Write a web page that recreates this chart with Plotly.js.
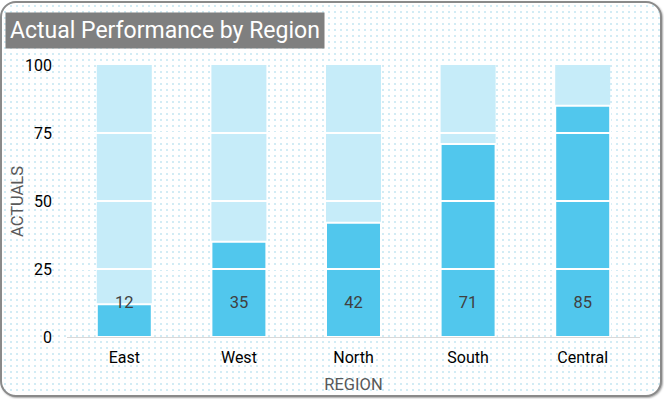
<!DOCTYPE html>
<html>
<head>
<meta charset="utf-8">
<script src="https://cdn.plot.ly/plotly-3.0.1.min.js"></script>
<style>
  html, body { margin:0; padding:0; width:664px; height:399px; overflow:hidden; background:#fff; }
  #frame {
    position:absolute; left:0; top:1px; width:662px; height:396px; box-sizing:border-box;
    border:2px solid #8a8a8a; border-radius:16px;
    background-color:#fff;
    background-image: radial-gradient(circle, #d2ecf5 0.9px, rgba(255,255,255,0) 1.1px);
    background-size: 6px 6px;
    box-shadow: 1px 1px 2px rgba(0,0,0,0.35);
  }
  #chart { position:absolute; left:0; top:0; width:664px; height:399px; }
</style>
</head>
<body>
<div id="frame"></div>
<div id="chart"></div>
<script>
const regions = ["East", "West", "North", "South", "Central"];
const actuals = [12, 35, 42, 71, 85];
const target = [100, 100, 100, 100, 100];
const yTicks = [0, 25, 50, 75, 100];

const FONT = "Roboto, 'Open Sans', sans-serif";

const traces = [
  {
    type: "bar", x: regions, y: target,
    marker: { color: "#C6ECF9" },
    hoverinfo: "skip", showlegend: false
  },
  {
    type: "bar", x: regions, y: actuals,
    marker: { color: "#51C7ED", line: { color: "#ffffff", width: 2 } },
    showlegend: false
  },
  {
    type: "scatter", mode: "text", x: regions,
    y: regions.map(() => 12.2),
    text: actuals.map(String),
    textposition: "middle center",
    textfont: { family: FONT, size: 16.5, color: "#404040" },
    showlegend: false, hoverinfo: "skip"
  }
];

const gridShapes = yTicks.filter(v => v > 0 && v < 100).map(v => ({
  type: "line", xref: "paper", x0: 0, x1: 1, yref: "y", y0: v, y1: v,
  line: { color: "#ffffff", width: 2 }, layer: "above"
}));

const layout = {
  width: 664, height: 399,
  margin: { l: 67, r: 24, t: 65, b: 62 },
  paper_bgcolor: "rgba(0,0,0,0)",
  plot_bgcolor: "rgba(0,0,0,0)",
  barmode: "overlay",
  bargap: 0.52,
  font: { family: FONT, color: "#000" },
  xaxis: {
    showgrid: false, showline: true, linecolor: "#d9d9d9", linewidth: 1,
    ticks: "", tickfont: { family: FONT, size: 16, color: "#000" },
    ticklabelstandoff: 6,
    layer: "above traces",
    title: { text: "REGION", font: { family: FONT, size: 16.5, color: "#595959" }, standoff: 12 },
    fixedrange: true
  },
  yaxis: {
    range: [0, 100], tickvals: yTicks, ticktext: yTicks.map(String),
    showgrid: false, zeroline: false, showline: false, ticks: "",
    tickfont: { family: FONT, size: 16, color: "#000" },
    ticklabelstandoff: 14,
    fixedrange: true
  },
  shapes: gridShapes,
  annotations: [
    {
      xref: "paper", yref: "paper", x: -0.108, y: 1.0, xanchor: "left", yanchor: "bottom",
      yshift: 16,
      text: "Actual Performance by Region", showarrow: false,
      font: { family: FONT, size: 23, color: "#ffffff" },
      bgcolor: "#7F7F7F", borderpad: 4
    },
    {
      xref: "paper", yref: "paper", x: -0.0873, y: 0.5, xanchor: "center", yanchor: "middle",
      textangle: -90, text: "ACTUALS", showarrow: false,
      font: { family: FONT, size: 16.5, color: "#595959" }
    }
  ]
};

Plotly.newPlot("chart", traces, layout, { displayModeBar: false, staticPlot: true });
</script>
</body>
</html>
